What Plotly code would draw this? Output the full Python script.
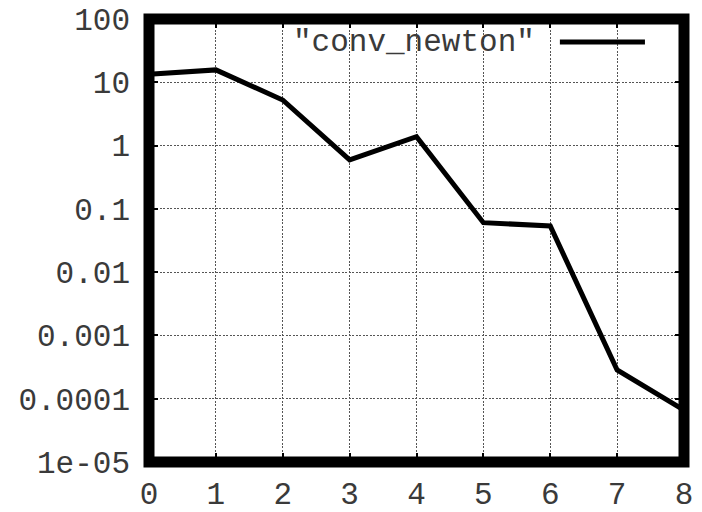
import plotly.graph_objects as go

iterations = [0, 1, 2, 3, 4, 5, 6, 7, 8]
residuals = [13.4, 15.7, 5.25, 0.593, 1.38, 0.0605, 0.0537, 0.000285, 0.000066]
series_name = '"conv_newton"'
x_ticks = [0, 1, 2, 3, 4, 5, 6, 7, 8]
y_ticks = [1e-05, 1e-04, 1e-03, 1e-02, 1e-01, 1, 10, 100]
y_ticktext = ["1e-05", "0.0001", "0.001", "0.01", "0.1", "1", "10", "100"]

FONT = dict(family="Liberation Mono, Courier New, monospace", size=31, color="#3a3a3a")

fig = go.Figure()
fig.add_trace(go.Scatter(
    x=iterations, y=residuals, mode="lines",
    line=dict(color="black", width=5),
    showlegend=False, cliponaxis=True, hoverinfo="skip",
))

axis_common = dict(
    automargin=False,
    showline=False, zeroline=False, showgrid=True,
    gridcolor="#555", gridwidth=1, griddash="2px,1.5px",
    ticks="inside", ticklen=9, tickwidth=2, tickcolor="black",
    mirror="ticks", tickfont=FONT,
)

fig.update_xaxes(range=[0, 8], tickvals=x_ticks, ticktext=[str(v) for v in x_ticks],
                 ticklabelstandoff=10, **axis_common)
fig.update_yaxes(type="log", range=[-5, 2], tickvals=y_ticks, ticktext=y_ticktext,
                 ticklabelstandoff=18, **axis_common)

# plot border
fig.add_shape(type="rect", xref="paper", yref="paper", x0=0, x1=1, y0=0, y1=1,
              line=dict(color="black", width=11), layer="above")

# legend (gnuplot style: text then sample)
fig.add_annotation(xref="paper", yref="paper", x=0.725, y=0.948, text=series_name,
                   showarrow=False, xanchor="right", yanchor="middle", font=FONT)
fig.add_shape(type="line", xref="paper", yref="paper", x0=0.768, x1=0.927, y0=0.948, y1=0.948,
              line=dict(color="black", width=5), layer="above")

fig.update_layout(
    template="none",
    width=702, height=512,
    margin=dict(l=149, r=18, t=19, b=50, autoexpand=False),
    plot_bgcolor="white", paper_bgcolor="white",
    font=FONT,
    hovermode=False,
)

fig.write_html("out.html", config={"displayModeBar": False, "staticPlot": True},
               post_script="document.body.style.margin='0';document.body.style.overflow='hidden';")
